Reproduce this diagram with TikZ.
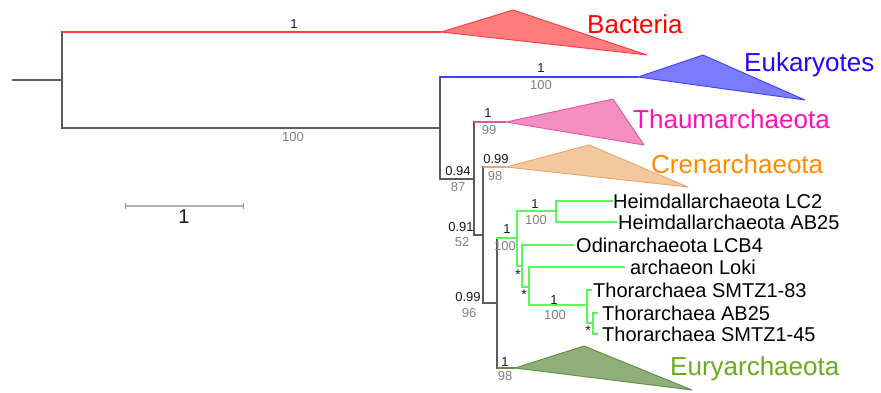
\documentclass[tikz,border=0pt]{standalone}
\usepackage{fontspec}
\setmainfont{Liberation Sans}
\usepackage{xcolor}
\usepackage{tikz}
\usetikzlibrary{calc}
\definecolor{branch}{HTML}{5C5C5C}
\definecolor{suppc}{HTML}{1A1A1A}
\definecolor{bootc}{HTML}{808080}
\definecolor{barc}{HTML}{B0B0B0}
\definecolor{bacline}{HTML}{FF3B3B}
\definecolor{bacfill}{HTML}{FF7C7C}
\definecolor{bactext}{HTML}{FF0000}
\definecolor{eukline}{HTML}{4040FF}
\definecolor{eukfill}{HTML}{7B7BFF}
\definecolor{euktext}{HTML}{2A00FF}
\definecolor{thmline}{HTML}{E0559E}
\definecolor{thmfill}{HTML}{F28FC0}
\definecolor{thmtext}{HTML}{FF10B4}
\definecolor{creline}{HTML}{E8A66C}
\definecolor{crefill}{HTML}{F2C89C}
\definecolor{cretext}{HTML}{FF8A00}
\definecolor{asgline}{HTML}{5CF55C}
\definecolor{eurline}{HTML}{5F8A45}
\definecolor{eurfill}{HTML}{8FAF7A}
\definecolor{eurtext}{HTML}{6BAA1E}
\tikzset{
  br/.style={draw=branch, line width=1.2pt, line cap=rect},
  redbr/.style={draw=bacline, line width=1.2pt},
  bluebr/.style={draw=eukline, line width=1.2pt},
  pinkbr/.style={draw=thmline, line width=1.2pt},
  orangebr/.style={draw=creline, line width=1.2pt},
  greenbr/.style={draw=asgline, line width=1.2pt, line cap=rect},
  olivebr/.style={draw=eurline, line width=1.2pt},
  bactri/.style={draw=bacline, fill=bacfill, line width=0.9pt, line join=round},
  euktri/.style={draw=eukline, fill=eukfill, line width=0.9pt, line join=round},
  thmtri/.style={draw=thmline, fill=thmfill, line width=0.9pt, line join=round},
  cretri/.style={draw=creline, fill=crefill, line width=0.9pt, line join=round},
  eurtri/.style={draw=eurline, fill=eurfill, line width=0.9pt, line join=round},
  supp/.style={text=suppc, inner sep=0pt, font=\fontsize{13}{15}\selectfont},
  boot/.style={text=bootc, inner sep=0pt, font=\fontsize{13}{15}\selectfont},
  star/.style={text=suppc, inner sep=0pt, font=\fontsize{14}{16}\selectfont},
  taxon/.style={anchor=west, inner sep=0pt, text=black, font=\fontsize{20}{22}\selectfont},
  group/.style={anchor=base west, inner sep=0pt, font=\fontsize{26}{28}\selectfont},
  scalebar/.style={draw=barc, line width=1.8pt},
  tick/.style={draw=barc!80!black, line width=0.8pt},
}

\begin{document}
\begin{tikzpicture}[x=1pt, y=-1pt]
  \useasboundingbox (0,0) rectangle (881,392);
  % inner nodes
  \coordinate (root) at (13,80);
  \coordinate (n1) at (62,80);
  \coordinate (n2) at (440,128);
  \coordinate (n3) at (474,179);
  \coordinate (n4) at (483,235);
  \coordinate (n5) at (497,303);
  \coordinate (asg) at (517,238);
  \coordinate (hdm) at (556,211);
  \coordinate (odn) at (522,266);
  \coordinate (lok) at (529,287);
  \coordinate (tho) at (587,305);
  \coordinate (tsub) at (593,323);
  % collapsed clades
  \coordinate (bac) at (441,32);
  \coordinate (euk) at (638,77);
  \coordinate (thm) at (506,122);
  \coordinate (cre) at (506,167);
  \coordinate (eur) at (515,368);

  \draw[bactri] (bac) -- ++(72,-22) -- ++(134,45) -- cycle;
  \draw[euktri] (euk) -- ++(65,-22) -- ++(102,45) -- cycle;
  \draw[thmtri] (thm) -- ++(107,-23) -- ++(31,46) -- cycle;
  \draw[cretri] (cre) -- ++(83,-22) -- ++(99,42) -- cycle;
  \draw[eurtri] (eur) -- ++(69,-22) -- ++(108,44) -- cycle;

  \node[group, text=bactext] (gbac) at (587,33) {Bacteria};
  \node[group, text=euktext] (geuk) at (744,71) {Eukaryotes};
  \node[group, text=thmtext] (gthm) at (633,128) {Thaumarchaeota};
  \node[group, text=cretext] (gcre) at (651,173) {Crenarchaeota};
  \node[group, text=eurtext] (geur) at (670,375) {Euryarchaeota};

  % leaves
  \node[taxon] (lc2) at (613,201) {Heimdallarchaeota LC2};
  \node[taxon] (hab) at (618,222) {Heimdallarchaeota AB25};
  \node[taxon] (lcb) at (576,245) {Odinarchaeota LCB4};
  \node[taxon] (loki) at (630,267) {archaeon Loki};
  \node[taxon] (t83) at (593,290) {Thorarchaea SMTZ1-83};
  \node[taxon] (tab) at (602,313) {Thorarchaea AB25};
  \node[taxon] (t45) at (602,334) {Thorarchaea SMTZ1-45};

  % backbone
  \draw[br] (root) -- (n1);
  \draw[br] (n1 |- bac) -- (n1 |- n2);
  \draw[redbr] (n1 |- bac) -- (bac);
  \draw[br] (n1 |- n2) -- (n2);
  \draw[br] (n2 |- euk) -- (n2 |- n3);
  \draw[bluebr] (n2 |- euk) -- (euk);
  \draw[br] (n2 |- n3) -- (n3);
  \draw[br] (n3 |- thm) -- (n3 |- n4);
  \draw[pinkbr] (n3 |- thm) -- (thm);
  \draw[br] (n3 |- n4) -- (n4);
  \draw[br] (n4 |- cre) -- (n4 |- n5);
  \draw[orangebr] (n4 |- cre) -- (cre);
  \draw[br] (n4 |- n5) -- (n5);
  \draw[br] (n5 |- asg) -- (n5 |- eur);
  \draw[olivebr] (n5 |- eur) -- (eur);

  % Asgard
  \draw[greenbr] (n5 |- asg) -- (asg);
  \draw[greenbr] (asg |- hdm) -- (asg |- odn);
  \draw[greenbr] (asg |- hdm) -- (hdm);
  \draw[greenbr] (hdm |- lc2) -- (hdm |- hab);
  \draw[greenbr] (hdm |- lc2) -- ([xshift=-1pt]lc2.west);
  \draw[greenbr] (hdm |- hab) -- ([xshift=-2pt]hab.west);
  \draw[greenbr] (asg |- odn) -- (odn);
  \draw[greenbr] (odn |- lcb) -- (odn |- lok);
  \draw[greenbr] (odn |- lcb) -- ([xshift=-3pt]lcb.west);
  \draw[greenbr] (odn |- lok) -- (lok);
  \draw[greenbr] (lok |- loki) -- (lok |- tho);
  \draw[greenbr] (lok |- loki) -- ([xshift=-6pt]loki.west);
  \draw[greenbr] (lok |- tho) -- (tho);
  \draw[greenbr] (tho |- t83) -- (tho |- tsub);
  \draw[greenbr] (tho |- t83) -- ([xshift=-2pt]t83.west);
  \draw[greenbr] (tho |- tsub) -- (tsub);
  \draw[greenbr] (tsub |- tab) -- (tsub |- t45);
  \draw[greenbr] (tsub |- tab) -- ([xshift=-5pt]tab.west);
  \draw[greenbr] (tsub |- t45) -- ([xshift=-5pt]t45.west);

  % support values
  \node[supp] (s1) at (294,24) {1};
  \node[boot] (b1) at (293,137) {100};
  \node[supp] (s2) at (541,68.5) {1};
  \node[boot] (b2) at (541,85.5) {100};
  \node[supp] (s3) at (488,113) {1};
  \node[boot] (b3) at (489,130) {99};
  \node[supp] (s4) at (496,159) {0.99};
  \node[boot] (b4) at (495,176) {98};
  \node[supp] (s5) at (458,171.5) {0.94};
  \node[boot] (b5) at (458,187) {87};
  \node[supp] (s6) at (461,227.5) {0.91};
  \node[boot] (b6) at (462,242) {52};
  \node[supp] (s7) at (468,297.5) {0.99};
  \node[boot] (b7) at (469,313) {96};
  \node[supp] (s8) at (507,229) {1};
  \node[boot] (b8) at (505,246) {100};
  \node[supp] (s9) at (535,204) {1};
  \node[boot] (b9) at (536,220.5) {100};
  \node[supp] (s10) at (554,300) {1};
  \node[boot] (b10) at (555,315.5) {100};
  \node[supp] (s11) at (505,362) {1};
  \node[boot] (b11) at (505,376.5) {98};
  \node[star] (a1) at (518,275) {*};
  \node[star] (a2) at (524,295) {*};
  \node[star] (a3) at (588,331) {*};

  % scale
  \coordinate (sbl) at (125,206);
  \coordinate (sbr) at (243,206);
  \draw[scalebar] (sbl) -- (sbr);
  \draw[tick] ($(sbl)+(0,-3)$) -- ($(sbl)+(0,3)$);
  \draw[tick] ($(sbr)+(0,-3)$) -- ($(sbr)+(0,3)$);
  \node[supp, font=\fontsize{20}{22}\selectfont] (sc) at (184,217) {1};
\end{tikzpicture}
\end{document}
